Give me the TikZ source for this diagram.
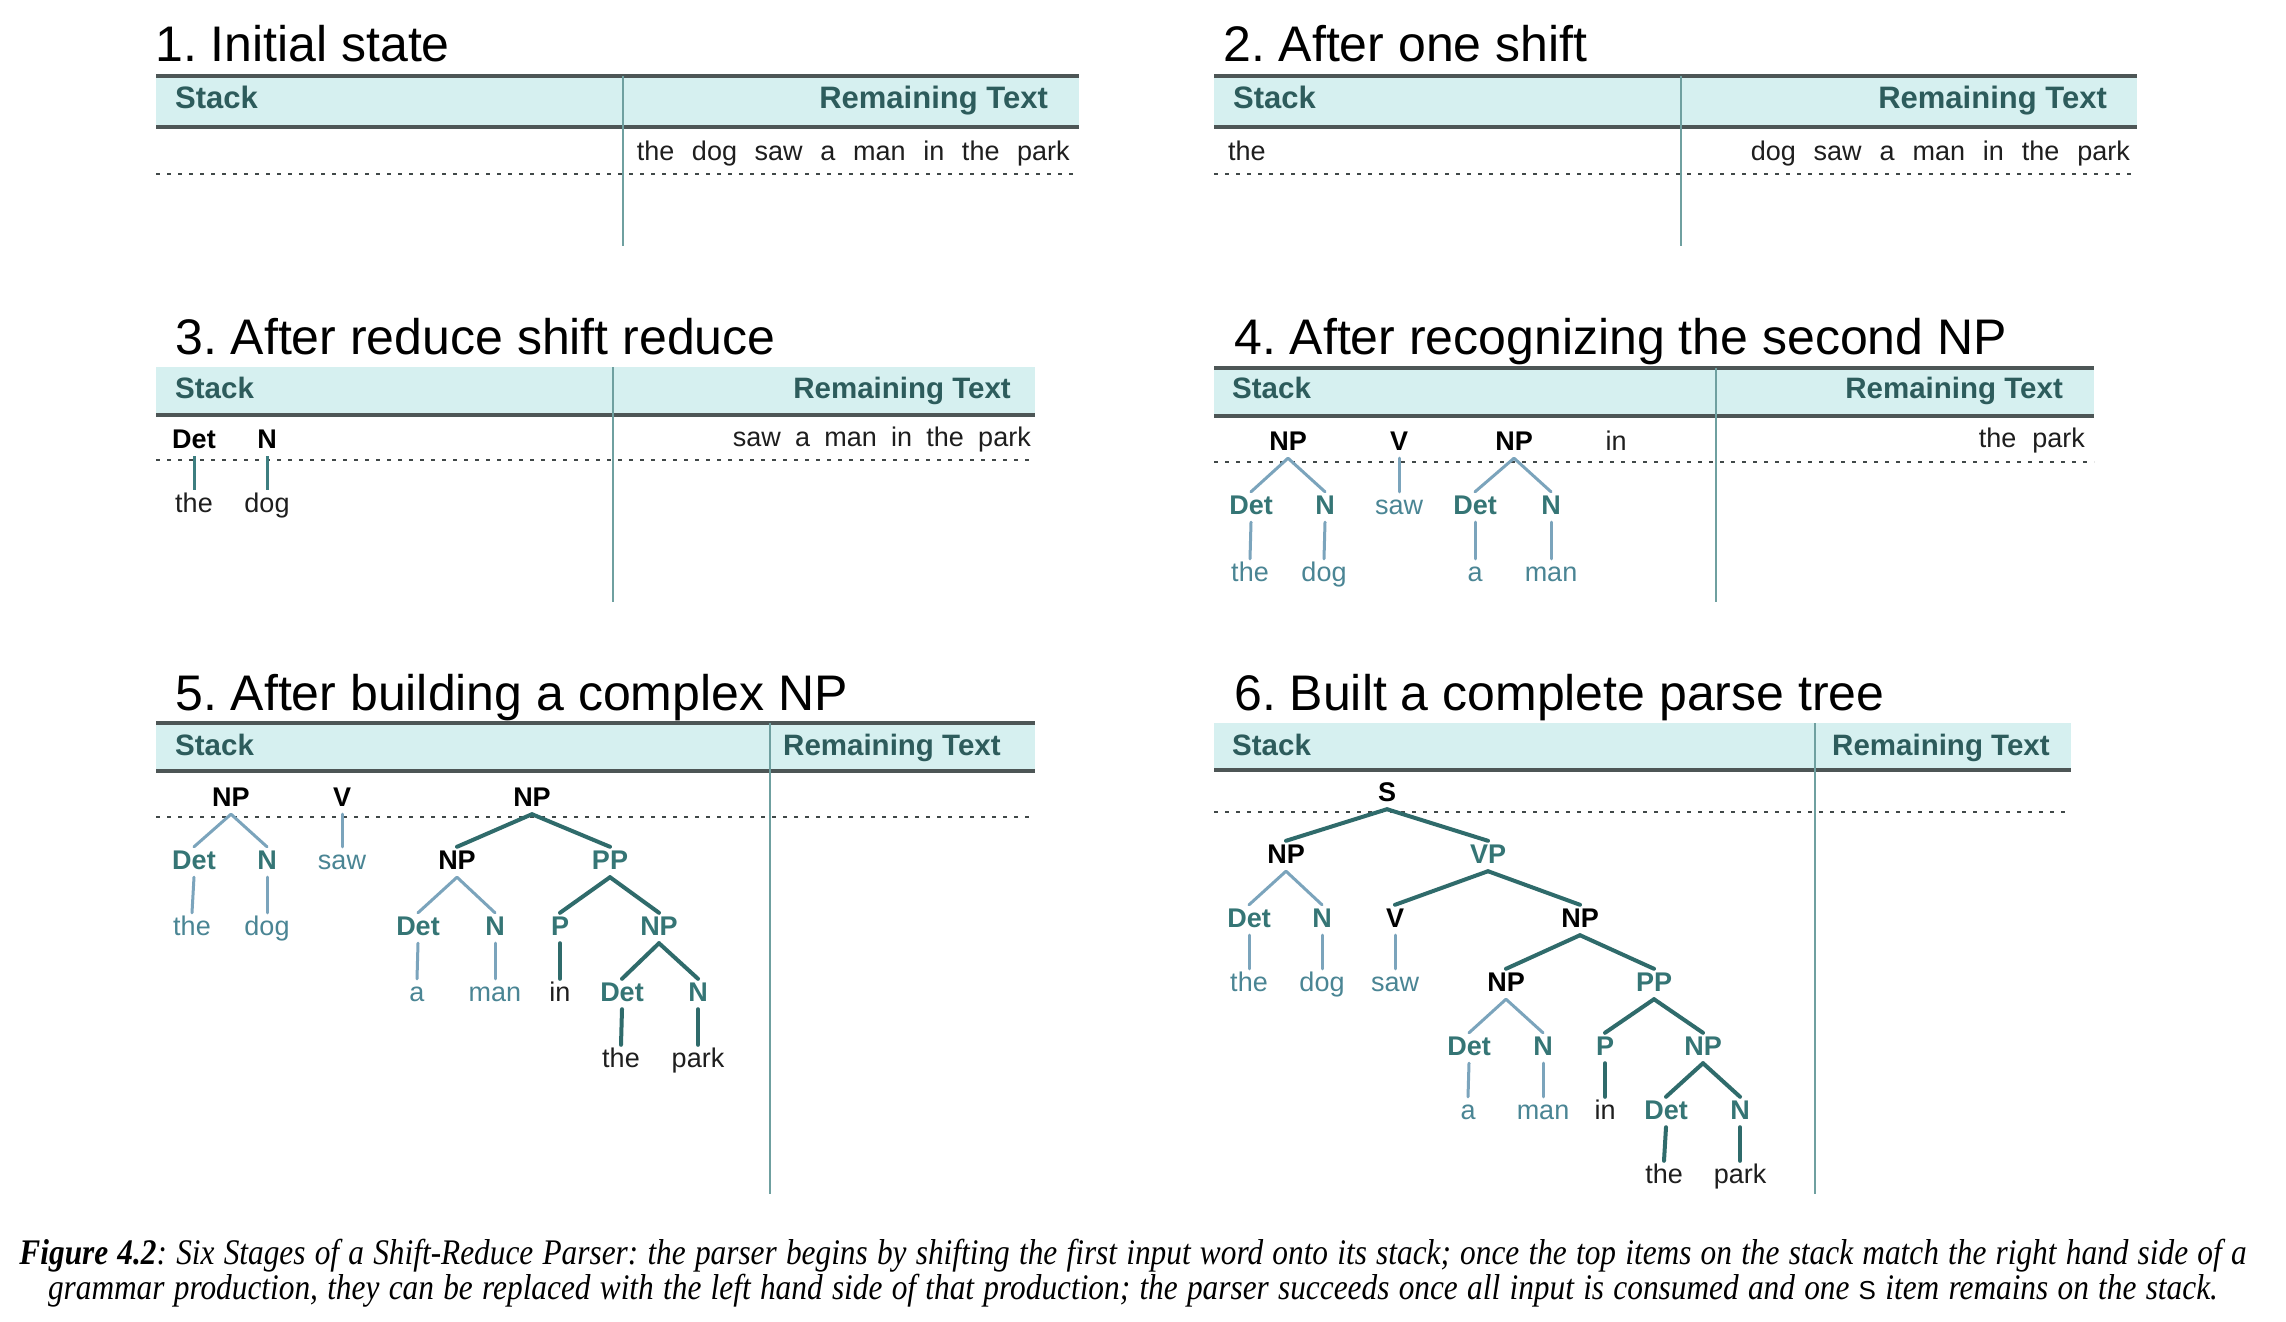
\documentclass[tikz,border=0pt]{standalone}
\usepackage{fontspec}
\newfontfamily\sansf{Liberation Sans}
\newfontfamily\seriff{Liberation Serif}[FakeStretch=0.87]
\frenchspacing
\definecolor{hdrcyan}{HTML}{D6F0F0}
\definecolor{hdrgray}{HTML}{4D5656}
\definecolor{hdrtext}{HTML}{2D5C5C}
\definecolor{divteal}{HTML}{6FA0A0}
\definecolor{dotgray}{HTML}{404848}
\definecolor{labteal}{HTML}{357575}
\definecolor{darkline}{HTML}{2F6B6B}
\definecolor{midline}{HTML}{3D7E80}
\definecolor{lightline}{HTML}{7BA4BC}
\definecolor{wordteal}{HTML}{4A8594}
\definecolor{wordblack}{HTML}{1E1E1E}
\tikzset{
  ttl/.style={anchor=base west, inner sep=0pt, font=\sansf\fontsize{50}{60}\selectfont},
  band/.style={fill=hdrcyan, draw=none},
  hline/.style={draw=hdrgray, line width=4pt},
  divl/.style={draw=divteal, line width=2.5pt},
  dotl/.style={draw=dotgray, line width=2.5pt, dash pattern=on 4pt off 7pt},
  htxt/.style={inner sep=0pt, text=hdrtext, font=\sansf\bfseries\fontsize{31}{36}\selectfont},
  htxtsmall/.style={inner sep=0pt, text=hdrtext, font=\sansf\bfseries\fontsize{29.5}{35}\selectfont},
  lab/.style={inner sep=0pt, text height=20pt, text depth=0pt, font=\sansf\bfseries\fontsize{27}{32}\selectfont},
  blab/.style={lab, text=black},
  tlab/.style={lab, text=labteal},
  wrd/.style={inner sep=0pt, text height=20pt, text depth=0pt, font=\sansf\fontsize{27}{32}\selectfont},
  bw/.style={wrd, text=wordblack},
  tw/.style={wrd, text=wordteal},
  rem/.style={inner sep=0pt, font=\sansf\fontsize{27}{32}\selectfont, text=wordblack},
  lightedge/.style={draw=lightline, line width=3pt, line cap=round},
  darkedge/.style={draw=darkline, line width=4pt, line cap=round},
  midedge/.style={draw=midline, line width=3pt},
  capt/.style={anchor=base, inner sep=0pt, font=\seriff\itshape\fontsize{36}{40}\selectfont}
}
\newcommand\tedge[3][]{\draw[#1] ([yshift=-8pt]#2.south) -- ([yshift=2pt]#3.north);}
\begin{document}
\begin{tikzpicture}[x=1pt,y=-1pt]
\useasboundingbox[fill=white] (0,0) rectangle (2286,1322);

% ---------------- Panel 1
\node[ttl] (t1) at (155,62) {1. Initial state};
\fill[band] (156,76) rectangle (1079,127);
\draw[hline] (156,76) -- (1079,76);
\draw[hline] (156,127) -- (1079,127);
\draw[dotl] (156,174) -- (1079,174);
\draw[divl] (623,76) -- (623,246);
\node[htxt, anchor=base west] (s1) at (175,108) {Stack};
\node[htxt, anchor=base east] (r1) at (1048,108) {Remaining Text};
\node[rem, anchor=base east] (rt1) at (1070,160) {\makebox[433pt][s]{the dog saw a man in the park}};

% ---------------- Panel 2
\node[ttl] (t2) at (1223,62) {2. After one shift};
\fill[band] (1214,76) rectangle (2137,127);
\draw[hline] (1214,76) -- (2137,76);
\draw[hline] (1214,127) -- (2137,127);
\draw[dotl] (1214,174) -- (2137,174);
\draw[divl] (1681,76) -- (1681,246);
\node[htxt, anchor=base west] (s2) at (1233,108) {Stack};
\node[htxt, anchor=base east] (r2) at (2107,108) {Remaining Text};
\node[rem, anchor=base west] (st2) at (1228,160) {the};
\node[rem, anchor=base east] (rt2) at (2130,160) {\makebox[379pt][s]{dog saw a man in the park}};

% ---------------- Panel 3
\node[ttl] (t3) at (175,354) {3. After reduce shift reduce};
\fill[band] (156,367) rectangle (1035,415);
\draw[hline] (156,415) -- (1035,415);
\draw[dotl] (156,460) -- (1035,460);
\draw[divl] (613,367) -- (613,602);
\node[htxtsmall, anchor=base west] (s3) at (175,398) {Stack};
\node[htxtsmall, anchor=base east] (r3) at (1011,398) {Remaining Text};
\node[rem, anchor=base east] (rt3) at (1031,446) {\makebox[298pt][s]{saw a man in the park}};
\node[blab] (p3det) at (194,438) {Det};
\node[blab] (p3n) at (267,438) {N};
\node[bw] (p3the) at (194,502) {the};
\node[bw] (p3dog) at (267,502) {dog};
\tedge[midedge]{p3det}{p3the}
\tedge[midedge]{p3n}{p3dog}

% ---------------- Panel 4
\node[ttl] (t4) at (1234,354) {4. After recognizing the second NP};
\fill[band] (1214,368) rectangle (2094,416);
\draw[hline] (1214,368) -- (2094,368);
\draw[hline] (1214,416) -- (2094,416);
\draw[dotl] (1214,462) -- (2094,462);
\draw[divl] (1716,368) -- (1716,602);
\node[htxtsmall, anchor=base west] (s4) at (1232,398) {Stack};
\node[htxtsmall, anchor=base east] (r4) at (2063,398) {Remaining Text};
\node[rem, anchor=base east] (rt4) at (2085,447) {\makebox[106pt][s]{the park}};
\node[blab] (p4np1) at (1288,440) {NP};
\node[blab] (p4v) at (1399,440) {V};
\node[blab] (p4np2) at (1514,440) {NP};
\node[bw] (p4in) at (1616,440) {in};
\node[tlab] (p4det1) at (1251,504) {Det};
\node[tlab] (p4n1) at (1325,504) {N};
\node[tw] (p4saw) at (1399,504) {saw};
\node[tlab] (p4det2) at (1475,504) {Det};
\node[tlab] (p4n2) at (1551,504) {N};
\node[tw] (p4the) at (1250,571) {the};
\node[tw] (p4dog) at (1324,571) {dog};
\node[tw] (p4a) at (1475,571) {a};
\node[tw] (p4man) at (1551,571) {man};
\tedge[lightedge]{p4np1}{p4det1}
\tedge[lightedge]{p4np1}{p4n1}
\tedge[lightedge]{p4v}{p4saw}
\tedge[lightedge]{p4np2}{p4det2}
\tedge[lightedge]{p4np2}{p4n2}
\tedge[lightedge]{p4det1}{p4the}
\tedge[lightedge]{p4n1}{p4dog}
\tedge[lightedge]{p4det2}{p4a}
\tedge[lightedge]{p4n2}{p4man}

% ---------------- Panel 5
\node[ttl] (t5) at (175,710) {5. After building a complex NP};
\fill[band] (156,723) rectangle (1035,771);
\draw[hline] (156,723) -- (1035,723);
\draw[hline] (156,771) -- (1035,771);
\draw[dotl] (156,817) -- (1035,817);
\draw[divl] (770,723) -- (770,1194);
\node[htxtsmall, anchor=base west] (s5) at (175,755) {Stack};
\node[htxtsmall, anchor=base west] (r5) at (783,755) {Remaining Text};
\node[blab] (p5np1) at (231,796) {NP};
\node[blab] (p5v) at (342,796) {V};
\node[blab] (p5np2) at (532,796) {NP};
\node[tlab] (p5det1) at (194,859) {Det};
\node[tlab] (p5n1) at (267,859) {N};
\node[tw] (p5saw) at (342,859) {saw};
\node[blab] (p5np3) at (457,859) {NP};
\node[tlab] (p5pp) at (610,859) {PP};
\node[tw] (p5the1) at (192,925) {the};
\node[tw] (p5dog) at (267,925) {dog};
\node[tlab] (p5det2) at (418,925) {Det};
\node[tlab] (p5n2) at (495,925) {N};
\node[tlab] (p5p) at (560,925) {P};
\node[tlab] (p5np4) at (659,925) {NP};
\node[tw] (p5a) at (417,991) {a};
\node[tw] (p5man) at (495,991) {man};
\node[bw] (p5in) at (560,991) {in};
\node[tlab] (p5det3) at (622,991) {Det};
\node[tlab] (p5n3) at (698,991) {N};
\node[bw] (p5the2) at (621,1057) {the};
\node[bw] (p5park) at (698,1057) {park};
\tedge[lightedge]{p5np1}{p5det1}
\tedge[lightedge]{p5np1}{p5n1}
\tedge[lightedge]{p5v}{p5saw}
\tedge[lightedge]{p5det1}{p5the1}
\tedge[lightedge]{p5n1}{p5dog}
\tedge[darkedge]{p5np2}{p5np3}
\tedge[darkedge]{p5np2}{p5pp}
\tedge[lightedge]{p5np3}{p5det2}
\tedge[lightedge]{p5np3}{p5n2}
\tedge[darkedge]{p5pp}{p5p}
\tedge[darkedge]{p5pp}{p5np4}
\tedge[lightedge]{p5det2}{p5a}
\tedge[lightedge]{p5n2}{p5man}
\tedge[darkedge]{p5p}{p5in}
\tedge[darkedge]{p5np4}{p5det3}
\tedge[darkedge]{p5np4}{p5n3}
\tedge[darkedge]{p5det3}{p5the2}
\tedge[darkedge]{p5n3}{p5park}

% ---------------- Panel 6
\node[ttl] (t6) at (1234,710) {6. Built a complete parse tree};
\fill[band] (1214,723) rectangle (2071,770);
\draw[hline] (1214,770) -- (2071,770);
\draw[dotl] (1214,812) -- (2068,812);
\draw[divl] (1815,723) -- (1815,1194);
\node[htxtsmall, anchor=base west] (s6) at (1232,755) {Stack};
\node[htxtsmall, anchor=base west] (r6) at (1832,755) {Remaining Text};
\node[blab] (p6s) at (1387,791) {S};
\node[blab] (p6np1) at (1286,853) {NP};
\node[tlab] (p6vp) at (1488,853) {VP};
\node[tlab] (p6det1) at (1249,917) {Det};
\node[tlab] (p6n1) at (1322,917) {N};
\node[blab] (p6v) at (1395,917) {V};
\node[blab] (p6np2) at (1580,917) {NP};
\node[tw] (p6the1) at (1249,981) {the};
\node[tw] (p6dog) at (1322,981) {dog};
\node[tw] (p6saw) at (1395,981) {saw};
\node[blab] (p6np3) at (1506,981) {NP};
\node[tlab] (p6pp) at (1654,981) {PP};
\node[tlab] (p6det2) at (1469,1045) {Det};
\node[tlab] (p6n2) at (1543,1045) {N};
\node[tlab] (p6p) at (1605,1045) {P};
\node[tlab] (p6np4) at (1703,1045) {NP};
\node[tw] (p6a) at (1468,1109) {a};
\node[tw] (p6man) at (1543,1109) {man};
\node[bw] (p6in) at (1605,1109) {in};
\node[tlab] (p6det3) at (1666,1109) {Det};
\node[tlab] (p6n3) at (1740,1109) {N};
\node[bw] (p6the2) at (1664,1173) {the};
\node[bw] (p6park) at (1740,1173) {park};
\tedge[darkedge]{p6s}{p6np1}
\tedge[darkedge]{p6s}{p6vp}
\tedge[lightedge]{p6np1}{p6det1}
\tedge[lightedge]{p6np1}{p6n1}
\tedge[darkedge]{p6vp}{p6v}
\tedge[darkedge]{p6vp}{p6np2}
\tedge[lightedge]{p6det1}{p6the1}
\tedge[lightedge]{p6n1}{p6dog}
\tedge[lightedge]{p6v}{p6saw}
\tedge[darkedge]{p6np2}{p6np3}
\tedge[darkedge]{p6np2}{p6pp}
\tedge[lightedge]{p6np3}{p6det2}
\tedge[lightedge]{p6np3}{p6n2}
\tedge[darkedge]{p6pp}{p6p}
\tedge[darkedge]{p6pp}{p6np4}
\tedge[lightedge]{p6det2}{p6a}
\tedge[lightedge]{p6n2}{p6man}
\tedge[darkedge]{p6p}{p6in}
\tedge[darkedge]{p6np4}{p6det3}
\tedge[darkedge]{p6np4}{p6n3}
\tedge[darkedge]{p6det3}{p6the2}
\tedge[darkedge]{p6n3}{p6park}

% ---------------- Caption
\node[capt] (cap1) at (1133,1264) {\makebox[2227pt][s]{{\bfseries Figure 4.2}: Six Stages of a Shift-Reduce Parser: the parser begins by shifting the first input word onto its stack; once the top items on the stack match the right hand side of a}};
\node[capt] (cap2) at (1133,1299) {\makebox[2170pt][s]{grammar production, they can be replaced with the left hand side of that production; the parser succeeds once all input is consumed and one {\sansf\upshape\fontsize{26}{30}\selectfont S} item remains on the stack.}};
\end{tikzpicture}
\end{document}
